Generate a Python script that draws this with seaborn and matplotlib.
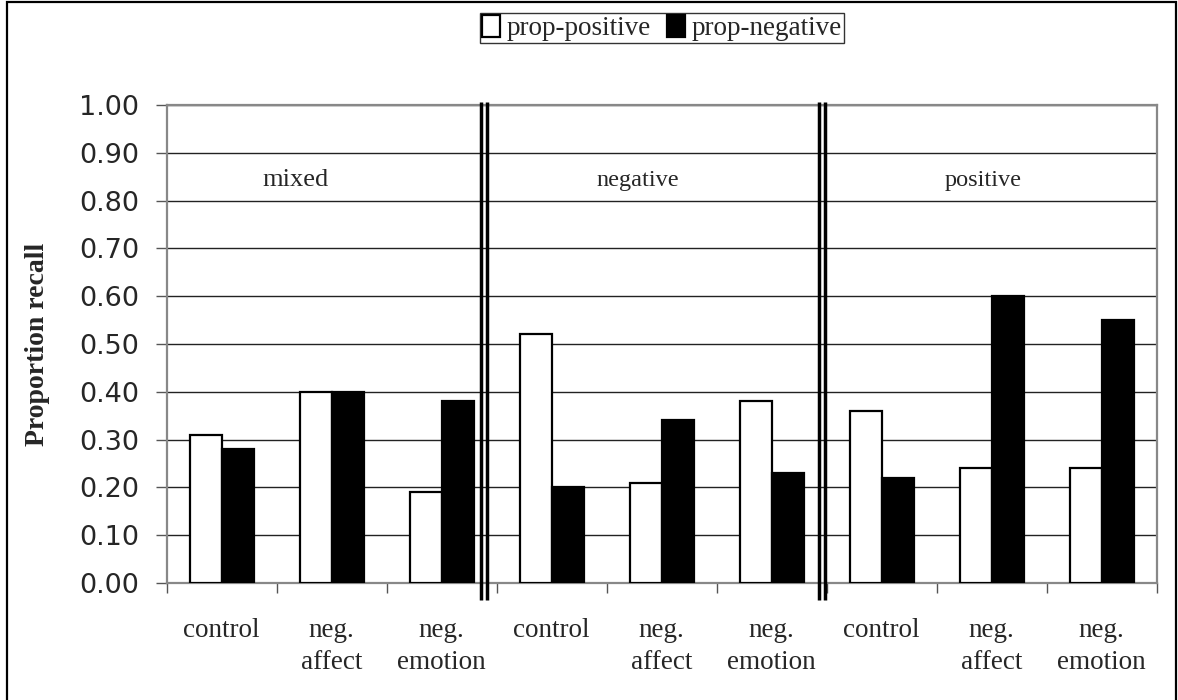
import matplotlib
matplotlib.use("Agg")
import matplotlib.pyplot as plt
import seaborn as sns
import pandas as pd
from matplotlib.patches import Patch, Rectangle

# ---- data ----
groups = ["mixed", "negative", "positive"]
conditions = ["control", "neg.\naffect", "neg.\nemotion"]
series = ["prop-positive", "prop-negative"]
prop_positive = [0.31, 0.40, 0.19, 0.52, 0.21, 0.38, 0.36, 0.24, 0.24]
prop_negative = [0.28, 0.40, 0.38, 0.20, 0.34, 0.23, 0.22, 0.60, 0.55]
y_ticks = [0.0, 0.1, 0.2, 0.3, 0.4, 0.5, 0.6, 0.7, 0.8, 0.9, 1.0]

keys = [f"{g}|{c}" for g in groups for c in conditions]
labels = [c for g in groups for c in conditions]
rows = []
for k, v in zip(keys, prop_positive):
    rows.append({"cat": k, "series": series[0], "value": v})
for k, v in zip(keys, prop_negative):
    rows.append({"cat": k, "series": series[1], "value": v})
df = pd.DataFrame(rows)

sns.set_theme(style="white")
plt.rcParams["font.family"] = ["Liberation Serif", "DejaVu Serif"]

W, H = 1178, 700
fig = plt.figure(figsize=(W / 100, H / 100), dpi=100)
ax = fig.add_axes([166.7 / W, 1 - 583 / H, 990 / W, 478 / H])

sns.barplot(data=df, x="cat", y="value", hue="series", order=keys,
            hue_order=series, palette=["white", "black"], width=0.58,
            edgecolor="black", linewidth=1.6, saturation=1, ax=ax,
            legend=False, zorder=3)

ax.set_ylim(0, 1.0)
ax.set_xlim(-0.5, len(keys) - 0.5)
ax.set_yticks(y_ticks)
ax.set_yticklabels([f"{t:.2f}" for t in y_ticks], fontfamily="DejaVu Sans", fontsize=19.5)
ax.yaxis.grid(True, color="#222222", linewidth=1.0, zorder=0)
ax.set_axisbelow(True)
ax.set_xticks(range(len(keys)))
ax.set_xticklabels(labels, fontsize=19.5, linespacing=1.4)
ax.set_xticks([i - 0.5 for i in range(len(keys) + 1)], minor=True)
ax.tick_params(axis="x", which="major", length=0, pad=25)
ax.tick_params(axis="x", which="minor", length=7, width=1, color="#555555", direction="out", bottom=True)
ax.tick_params(axis="y", which="major", length=8, width=1, color="#555555", direction="out", left=True, pad=12)
ax.set_xlabel("")
ax.set_ylabel("Proportion recall", fontsize=20, fontweight="bold")
ax.yaxis.set_label_coords(-0.118, 0.5)

for s in ax.spines.values():
    s.set_color("#888888")
    s.set_linewidth(1.6)
    s.set_visible(True)

# group separators (double lines)
for xs in [2.385, 5.457]:
    for dx in (-0.026, 0.026):
        ax.plot([xs + dx, xs + dx], [-0.036, 1.006], color="black", lw=2.5,
                clip_on=False, zorder=5, solid_capstyle="butt")

# group labels
ax.text(0.675, 0.843, groups[0], ha="center", va="center", fontsize=19)
ax.text(3.78, 0.843, groups[1], ha="center", va="center", fontsize=17.5)
ax.text(6.92, 0.843, groups[2], ha="center", va="center", fontsize=17.5)

# legend
handles = [Patch(facecolor="white", edgecolor="black", linewidth=1.6),
           Patch(facecolor="black", edgecolor="black", linewidth=1.6)]
leg = fig.legend(handles, series, loc="center", bbox_to_anchor=(662 / W, 1 - 28 / H),
                 ncol=2, fontsize=19.5, frameon=True, fancybox=False,
                 edgecolor="black", handlelength=0.66, handleheight=0.9,
                 handletextpad=0.25, columnspacing=0.6, borderpad=0.08,
                 borderaxespad=0)
leg.get_frame().set_linewidth(1.0)

# outer chart border
fig.patches.append(Rectangle((7 / W, -0.01), (1176 - 7) / W, 1.01 - 2 / H,
                             transform=fig.transFigure, fill=False,
                             edgecolor="black", linewidth=1.6))

fig.savefig("out.png", dpi=100)
